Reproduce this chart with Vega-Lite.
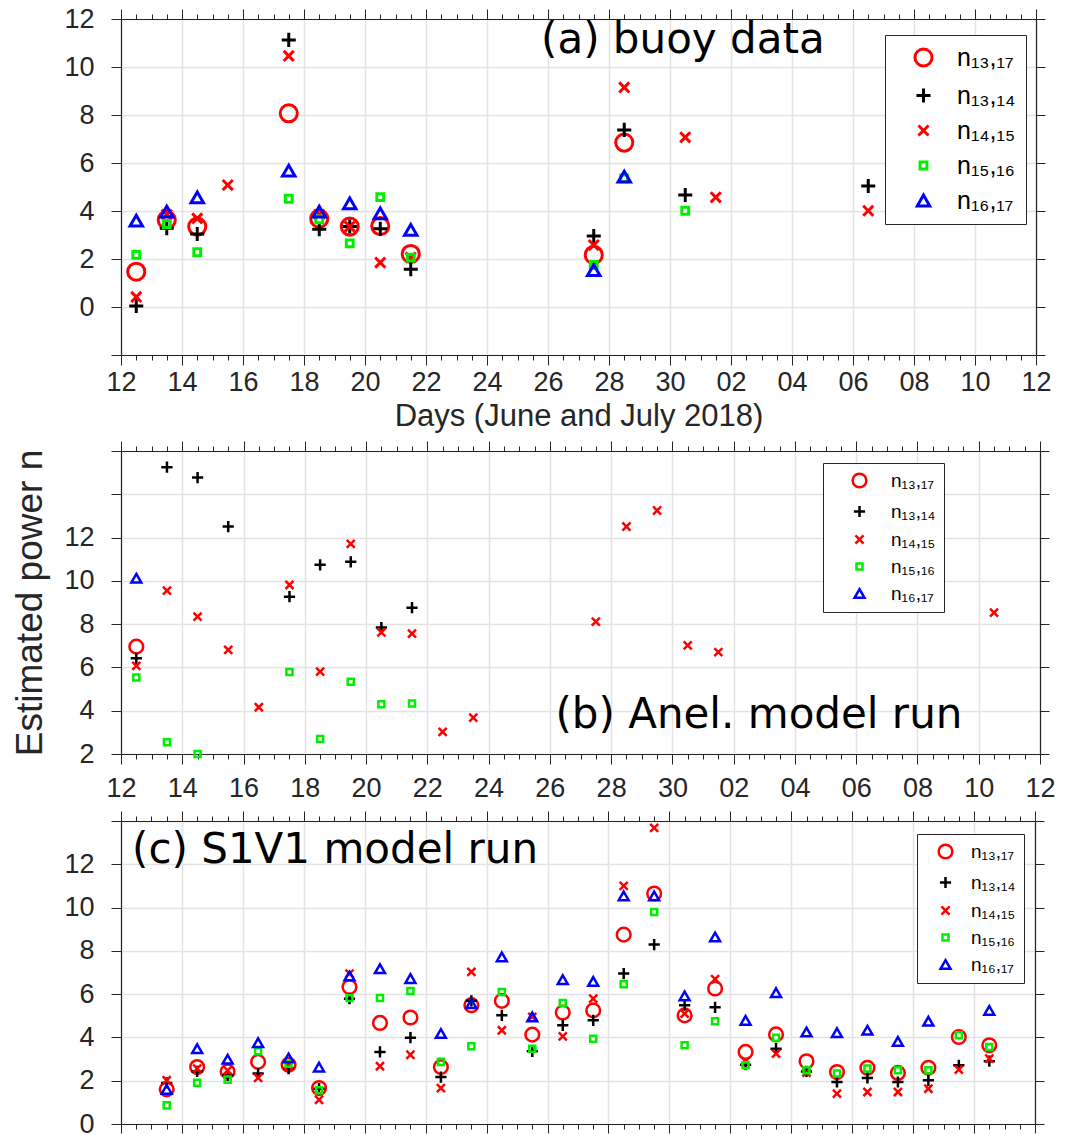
{
  "$schema": "https://vega.github.io/schema/vega-lite/v6.json",
  "padding": {"left": 11, "top": 5, "right": 0, "bottom": 0},
  "background": "white",
  "spacing": 6,
  "config": {
    "view": {"stroke": null},
    "font": "Liberation Sans",
    "axis": {
      "domainColor": "#262626", "tickColor": "#262626", "labelColor": "#262626", "titleColor": "#262626",
      "labelFont": "Liberation Sans", "titleFont": "Liberation Sans", "labelFontSize": 27,
      "gridColor": "#e3e3e3", "gridWidth": 1.5, "titleFontWeight": "normal",
      "labelFlush": false, "labelOverlap": false, "tickWidth": 1, "domainWidth": 1.2
    }
  },
  "datasets": {
    "buoy": [
      {"date": "2018-06-12T12:00:00Z", "series": "n₁₃,₁₇", "n": 1.47},
      {"date": "2018-06-13T12:00:00Z", "series": "n₁₃,₁₇", "n": 3.63},
      {"date": "2018-06-14T12:00:00Z", "series": "n₁₃,₁₇", "n": 3.35},
      {"date": "2018-06-17T12:00:00Z", "series": "n₁₃,₁₇", "n": 8.07},
      {"date": "2018-06-18T12:00:00Z", "series": "n₁₃,₁₇", "n": 3.68},
      {"date": "2018-06-19T12:00:00Z", "series": "n₁₃,₁₇", "n": 3.35},
      {"date": "2018-06-20T12:00:00Z", "series": "n₁₃,₁₇", "n": 3.37},
      {"date": "2018-06-21T12:00:00Z", "series": "n₁₃,₁₇", "n": 2.21},
      {"date": "2018-06-27T12:00:00Z", "series": "n₁₃,₁₇", "n": 2.17},
      {"date": "2018-06-28T12:00:00Z", "series": "n₁₃,₁₇", "n": 6.85},
      {"date": "2018-06-12T12:00:00Z", "series": "n₁₃,₁₄", "n": 0.04},
      {"date": "2018-06-13T12:00:00Z", "series": "n₁₃,₁₄", "n": 3.28},
      {"date": "2018-06-14T12:00:00Z", "series": "n₁₃,₁₄", "n": 3.04},
      {"date": "2018-06-17T12:00:00Z", "series": "n₁₃,₁₄", "n": 11.13},
      {"date": "2018-06-18T12:00:00Z", "series": "n₁₃,₁₄", "n": 3.24},
      {"date": "2018-06-19T12:00:00Z", "series": "n₁₃,₁₄", "n": 3.35},
      {"date": "2018-06-20T12:00:00Z", "series": "n₁₃,₁₄", "n": 3.26},
      {"date": "2018-06-21T12:00:00Z", "series": "n₁₃,₁₄", "n": 1.57},
      {"date": "2018-06-27T12:00:00Z", "series": "n₁₃,₁₄", "n": 2.96},
      {"date": "2018-06-28T12:00:00Z", "series": "n₁₃,₁₄", "n": 7.38},
      {"date": "2018-06-30T12:00:00Z", "series": "n₁₃,₁₄", "n": 4.67},
      {"date": "2018-07-06T12:00:00Z", "series": "n₁₃,₁₄", "n": 5.04},
      {"date": "2018-06-12T12:00:00Z", "series": "n₁₄,₁₅", "n": 0.42},
      {"date": "2018-06-13T12:00:00Z", "series": "n₁₄,₁₅", "n": 3.85},
      {"date": "2018-06-14T12:00:00Z", "series": "n₁₄,₁₅", "n": 3.69},
      {"date": "2018-06-15T12:00:00Z", "series": "n₁₄,₁₅", "n": 5.08},
      {"date": "2018-06-17T12:00:00Z", "series": "n₁₄,₁₅", "n": 10.46},
      {"date": "2018-06-18T12:00:00Z", "series": "n₁₄,₁₅", "n": 3.85},
      {"date": "2018-06-19T12:00:00Z", "series": "n₁₄,₁₅", "n": 3.35},
      {"date": "2018-06-20T12:00:00Z", "series": "n₁₄,₁₅", "n": 1.85},
      {"date": "2018-06-21T12:00:00Z", "series": "n₁₄,₁₅", "n": 2.06},
      {"date": "2018-06-27T12:00:00Z", "series": "n₁₄,₁₅", "n": 2.58},
      {"date": "2018-06-28T12:00:00Z", "series": "n₁₄,₁₅", "n": 9.15},
      {"date": "2018-06-30T12:00:00Z", "series": "n₁₄,₁₅", "n": 7.07},
      {"date": "2018-07-01T12:00:00Z", "series": "n₁₄,₁₅", "n": 4.57},
      {"date": "2018-07-06T12:00:00Z", "series": "n₁₄,₁₅", "n": 4.01},
      {"date": "2018-06-12T12:00:00Z", "series": "n₁₅,₁₆", "n": 2.17},
      {"date": "2018-06-13T12:00:00Z", "series": "n₁₅,₁₆", "n": 3.46},
      {"date": "2018-06-14T12:00:00Z", "series": "n₁₅,₁₆", "n": 2.28},
      {"date": "2018-06-17T12:00:00Z", "series": "n₁₅,₁₆", "n": 4.51},
      {"date": "2018-06-18T12:00:00Z", "series": "n₁₅,₁₆", "n": 3.65},
      {"date": "2018-06-19T12:00:00Z", "series": "n₁₅,₁₆", "n": 2.65},
      {"date": "2018-06-20T12:00:00Z", "series": "n₁₅,₁₆", "n": 4.58},
      {"date": "2018-06-21T12:00:00Z", "series": "n₁₅,₁₆", "n": 2.06},
      {"date": "2018-06-27T12:00:00Z", "series": "n₁₅,₁₆", "n": 1.75},
      {"date": "2018-06-28T12:00:00Z", "series": "n₁₅,₁₆", "n": 5.36},
      {"date": "2018-06-30T12:00:00Z", "series": "n₁₅,₁₆", "n": 4.01},
      {"date": "2018-06-12T12:00:00Z", "series": "n₁₆,₁₇", "n": 3.6},
      {"date": "2018-06-13T12:00:00Z", "series": "n₁₆,₁₇", "n": 3.97},
      {"date": "2018-06-14T12:00:00Z", "series": "n₁₆,₁₇", "n": 4.57},
      {"date": "2018-06-17T12:00:00Z", "series": "n₁₆,₁₇", "n": 5.68},
      {"date": "2018-06-18T12:00:00Z", "series": "n₁₆,₁₇", "n": 3.97},
      {"date": "2018-06-19T12:00:00Z", "series": "n₁₆,₁₇", "n": 4.32},
      {"date": "2018-06-20T12:00:00Z", "series": "n₁₆,₁₇", "n": 3.9},
      {"date": "2018-06-21T12:00:00Z", "series": "n₁₆,₁₇", "n": 3.21},
      {"date": "2018-06-27T12:00:00Z", "series": "n₁₆,₁₇", "n": 1.54},
      {"date": "2018-06-28T12:00:00Z", "series": "n₁₆,₁₇", "n": 5.43}
    ],
    "anel": [
      {"date": "2018-06-12T12:00:00Z", "series": "n₁₃,₁₇", "n": 6.96},
      {"date": "2018-06-12T12:00:00Z", "series": "n₁₃,₁₄", "n": 6.42},
      {"date": "2018-06-13T12:00:00Z", "series": "n₁₃,₁₄", "n": 15.25},
      {"date": "2018-06-14T12:00:00Z", "series": "n₁₃,₁₄", "n": 14.77},
      {"date": "2018-06-15T12:00:00Z", "series": "n₁₃,₁₄", "n": 12.51},
      {"date": "2018-06-17T12:00:00Z", "series": "n₁₃,₁₄", "n": 9.27},
      {"date": "2018-06-18T12:00:00Z", "series": "n₁₃,₁₄", "n": 10.74},
      {"date": "2018-06-19T12:00:00Z", "series": "n₁₃,₁₄", "n": 10.88},
      {"date": "2018-06-20T12:00:00Z", "series": "n₁₃,₁₄", "n": 7.84},
      {"date": "2018-06-21T12:00:00Z", "series": "n₁₃,₁₄", "n": 8.76},
      {"date": "2018-06-12T12:00:00Z", "series": "n₁₄,₁₅", "n": 6.07},
      {"date": "2018-06-13T12:00:00Z", "series": "n₁₄,₁₅", "n": 9.55},
      {"date": "2018-06-14T12:00:00Z", "series": "n₁₄,₁₅", "n": 8.35},
      {"date": "2018-06-15T12:00:00Z", "series": "n₁₄,₁₅", "n": 6.81},
      {"date": "2018-06-16T12:00:00Z", "series": "n₁₄,₁₅", "n": 4.16},
      {"date": "2018-06-17T12:00:00Z", "series": "n₁₄,₁₅", "n": 9.81},
      {"date": "2018-06-18T12:00:00Z", "series": "n₁₄,₁₅", "n": 5.81},
      {"date": "2018-06-19T12:00:00Z", "series": "n₁₄,₁₅", "n": 11.71},
      {"date": "2018-06-20T12:00:00Z", "series": "n₁₄,₁₅", "n": 7.62},
      {"date": "2018-06-21T12:00:00Z", "series": "n₁₄,₁₅", "n": 7.56},
      {"date": "2018-06-22T12:00:00Z", "series": "n₁₄,₁₅", "n": 3.02},
      {"date": "2018-06-23T12:00:00Z", "series": "n₁₄,₁₅", "n": 3.68},
      {"date": "2018-06-27T12:00:00Z", "series": "n₁₄,₁₅", "n": 8.12},
      {"date": "2018-06-28T12:00:00Z", "series": "n₁₄,₁₅", "n": 12.51},
      {"date": "2018-06-29T12:00:00Z", "series": "n₁₄,₁₅", "n": 13.25},
      {"date": "2018-06-30T12:00:00Z", "series": "n₁₄,₁₅", "n": 7.02},
      {"date": "2018-07-01T12:00:00Z", "series": "n₁₄,₁₅", "n": 6.71},
      {"date": "2018-07-10T12:00:00Z", "series": "n₁₄,₁₅", "n": 8.53},
      {"date": "2018-06-12T12:00:00Z", "series": "n₁₅,₁₆", "n": 5.53},
      {"date": "2018-06-13T12:00:00Z", "series": "n₁₅,₁₆", "n": 2.54},
      {"date": "2018-06-14T12:00:00Z", "series": "n₁₅,₁₆", "n": 2.0},
      {"date": "2018-06-17T12:00:00Z", "series": "n₁₅,₁₆", "n": 5.79},
      {"date": "2018-06-18T12:00:00Z", "series": "n₁₅,₁₆", "n": 2.69},
      {"date": "2018-06-19T12:00:00Z", "series": "n₁₅,₁₆", "n": 5.34},
      {"date": "2018-06-20T12:00:00Z", "series": "n₁₅,₁₆", "n": 4.3},
      {"date": "2018-06-21T12:00:00Z", "series": "n₁₅,₁₆", "n": 4.33},
      {"date": "2018-06-12T12:00:00Z", "series": "n₁₆,₁₇", "n": 10.12}
    ],
    "s1v1": [
      {"date": "2018-06-13T12:00:00Z", "series": "n₁₃,₁₇", "n": 1.6},
      {"date": "2018-06-14T12:00:00Z", "series": "n₁₃,₁₇", "n": 2.63},
      {"date": "2018-06-15T12:00:00Z", "series": "n₁₃,₁₇", "n": 2.43},
      {"date": "2018-06-16T12:00:00Z", "series": "n₁₃,₁₇", "n": 2.87},
      {"date": "2018-06-17T12:00:00Z", "series": "n₁₃,₁₇", "n": 2.74},
      {"date": "2018-06-18T12:00:00Z", "series": "n₁₃,₁₇", "n": 1.66},
      {"date": "2018-06-19T12:00:00Z", "series": "n₁₃,₁₇", "n": 6.33},
      {"date": "2018-06-20T12:00:00Z", "series": "n₁₃,₁₇", "n": 4.67},
      {"date": "2018-06-21T12:00:00Z", "series": "n₁₃,₁₇", "n": 4.92},
      {"date": "2018-06-22T12:00:00Z", "series": "n₁₃,₁₇", "n": 2.63},
      {"date": "2018-06-23T12:00:00Z", "series": "n₁₃,₁₇", "n": 5.49},
      {"date": "2018-06-24T12:00:00Z", "series": "n₁₃,₁₇", "n": 5.69},
      {"date": "2018-06-25T12:00:00Z", "series": "n₁₃,₁₇", "n": 4.13},
      {"date": "2018-06-26T12:00:00Z", "series": "n₁₃,₁₇", "n": 5.15},
      {"date": "2018-06-27T12:00:00Z", "series": "n₁₃,₁₇", "n": 5.25},
      {"date": "2018-06-28T12:00:00Z", "series": "n₁₃,₁₇", "n": 8.75},
      {"date": "2018-06-29T12:00:00Z", "series": "n₁₃,₁₇", "n": 10.65},
      {"date": "2018-06-30T12:00:00Z", "series": "n₁₃,₁₇", "n": 5.02},
      {"date": "2018-07-01T12:00:00Z", "series": "n₁₃,₁₇", "n": 6.26},
      {"date": "2018-07-02T12:00:00Z", "series": "n₁₃,₁₇", "n": 3.33},
      {"date": "2018-07-03T12:00:00Z", "series": "n₁₃,₁₇", "n": 4.14},
      {"date": "2018-07-04T12:00:00Z", "series": "n₁₃,₁₇", "n": 2.9},
      {"date": "2018-07-05T12:00:00Z", "series": "n₁₃,₁₇", "n": 2.4},
      {"date": "2018-07-06T12:00:00Z", "series": "n₁₃,₁₇", "n": 2.6},
      {"date": "2018-07-07T12:00:00Z", "series": "n₁₃,₁₇", "n": 2.36},
      {"date": "2018-07-08T12:00:00Z", "series": "n₁₃,₁₇", "n": 2.6},
      {"date": "2018-07-09T12:00:00Z", "series": "n₁₃,₁₇", "n": 4.02},
      {"date": "2018-07-10T12:00:00Z", "series": "n₁₃,₁₇", "n": 3.64},
      {"date": "2018-06-13T12:00:00Z", "series": "n₁₃,₁₄", "n": 1.9},
      {"date": "2018-06-14T12:00:00Z", "series": "n₁₃,₁₄", "n": 2.43},
      {"date": "2018-06-15T12:00:00Z", "series": "n₁₃,₁₄", "n": 2.25},
      {"date": "2018-06-16T12:00:00Z", "series": "n₁₃,₁₄", "n": 2.33},
      {"date": "2018-06-17T12:00:00Z", "series": "n₁₃,₁₄", "n": 2.56},
      {"date": "2018-06-18T12:00:00Z", "series": "n₁₃,₁₄", "n": 1.63},
      {"date": "2018-06-19T12:00:00Z", "series": "n₁₃,₁₄", "n": 5.79},
      {"date": "2018-06-20T12:00:00Z", "series": "n₁₃,₁₄", "n": 3.33},
      {"date": "2018-06-21T12:00:00Z", "series": "n₁₃,₁₄", "n": 3.99},
      {"date": "2018-06-22T12:00:00Z", "series": "n₁₃,₁₄", "n": 2.17},
      {"date": "2018-06-23T12:00:00Z", "series": "n₁₃,₁₄", "n": 5.69},
      {"date": "2018-06-24T12:00:00Z", "series": "n₁₃,₁₄", "n": 5.02},
      {"date": "2018-06-25T12:00:00Z", "series": "n₁₃,₁₄", "n": 3.36},
      {"date": "2018-06-26T12:00:00Z", "series": "n₁₃,₁₄", "n": 4.56},
      {"date": "2018-06-27T12:00:00Z", "series": "n₁₃,₁₄", "n": 4.79},
      {"date": "2018-06-28T12:00:00Z", "series": "n₁₃,₁₄", "n": 6.95},
      {"date": "2018-06-29T12:00:00Z", "series": "n₁₃,₁₄", "n": 8.29},
      {"date": "2018-06-30T12:00:00Z", "series": "n₁₃,₁₄", "n": 5.49},
      {"date": "2018-07-01T12:00:00Z", "series": "n₁₃,₁₄", "n": 5.39},
      {"date": "2018-07-02T12:00:00Z", "series": "n₁₃,₁₄", "n": 2.74},
      {"date": "2018-07-03T12:00:00Z", "series": "n₁₃,₁₄", "n": 3.48},
      {"date": "2018-07-04T12:00:00Z", "series": "n₁₃,₁₄", "n": 2.43},
      {"date": "2018-07-05T12:00:00Z", "series": "n₁₃,₁₄", "n": 1.94},
      {"date": "2018-07-06T12:00:00Z", "series": "n₁₃,₁₄", "n": 2.13},
      {"date": "2018-07-07T12:00:00Z", "series": "n₁₃,₁₄", "n": 1.94},
      {"date": "2018-07-08T12:00:00Z", "series": "n₁₃,₁₄", "n": 2.02},
      {"date": "2018-07-09T12:00:00Z", "series": "n₁₃,₁₄", "n": 2.71},
      {"date": "2018-07-10T12:00:00Z", "series": "n₁₃,₁₄", "n": 2.9},
      {"date": "2018-06-13T12:00:00Z", "series": "n₁₄,₁₅", "n": 2.02},
      {"date": "2018-06-14T12:00:00Z", "series": "n₁₄,₁₅", "n": 2.56},
      {"date": "2018-06-15T12:00:00Z", "series": "n₁₄,₁₅", "n": 2.48},
      {"date": "2018-06-16T12:00:00Z", "series": "n₁₄,₁₅", "n": 2.13},
      {"date": "2018-06-17T12:00:00Z", "series": "n₁₄,₁₅", "n": 2.71},
      {"date": "2018-06-18T12:00:00Z", "series": "n₁₄,₁₅", "n": 1.12},
      {"date": "2018-06-19T12:00:00Z", "series": "n₁₄,₁₅", "n": 6.95},
      {"date": "2018-06-20T12:00:00Z", "series": "n₁₄,₁₅", "n": 2.67},
      {"date": "2018-06-21T12:00:00Z", "series": "n₁₄,₁₅", "n": 3.2},
      {"date": "2018-06-22T12:00:00Z", "series": "n₁₄,₁₅", "n": 1.66},
      {"date": "2018-06-23T12:00:00Z", "series": "n₁₄,₁₅", "n": 7.03},
      {"date": "2018-06-24T12:00:00Z", "series": "n₁₄,₁₅", "n": 4.33},
      {"date": "2018-06-25T12:00:00Z", "series": "n₁₄,₁₅", "n": 4.95},
      {"date": "2018-06-26T12:00:00Z", "series": "n₁₄,₁₅", "n": 4.05},
      {"date": "2018-06-27T12:00:00Z", "series": "n₁₄,₁₅", "n": 5.79},
      {"date": "2018-06-28T12:00:00Z", "series": "n₁₄,₁₅", "n": 11.0},
      {"date": "2018-06-29T12:00:00Z", "series": "n₁₄,₁₅", "n": 13.68},
      {"date": "2018-06-30T12:00:00Z", "series": "n₁₄,₁₅", "n": 5.1},
      {"date": "2018-07-01T12:00:00Z", "series": "n₁₄,₁₅", "n": 6.69},
      {"date": "2018-07-02T12:00:00Z", "series": "n₁₄,₁₅", "n": 2.9},
      {"date": "2018-07-03T12:00:00Z", "series": "n₁₄,₁₅", "n": 3.25},
      {"date": "2018-07-04T12:00:00Z", "series": "n₁₄,₁₅", "n": 2.37},
      {"date": "2018-07-05T12:00:00Z", "series": "n₁₄,₁₅", "n": 1.4},
      {"date": "2018-07-06T12:00:00Z", "series": "n₁₄,₁₅", "n": 1.48},
      {"date": "2018-07-07T12:00:00Z", "series": "n₁₄,₁₅", "n": 1.48},
      {"date": "2018-07-08T12:00:00Z", "series": "n₁₄,₁₅", "n": 1.63},
      {"date": "2018-07-09T12:00:00Z", "series": "n₁₄,₁₅", "n": 2.51},
      {"date": "2018-07-10T12:00:00Z", "series": "n₁₄,₁₅", "n": 3.02},
      {"date": "2018-06-13T12:00:00Z", "series": "n₁₅,₁₆", "n": 0.86},
      {"date": "2018-06-14T12:00:00Z", "series": "n₁₅,₁₆", "n": 1.91},
      {"date": "2018-06-15T12:00:00Z", "series": "n₁₅,₁₆", "n": 2.05},
      {"date": "2018-06-16T12:00:00Z", "series": "n₁₅,₁₆", "n": 3.36},
      {"date": "2018-06-17T12:00:00Z", "series": "n₁₅,₁₆", "n": 2.79},
      {"date": "2018-06-18T12:00:00Z", "series": "n₁₅,₁₆", "n": 1.56},
      {"date": "2018-06-19T12:00:00Z", "series": "n₁₅,₁₆", "n": 5.82},
      {"date": "2018-06-20T12:00:00Z", "series": "n₁₅,₁₆", "n": 5.82},
      {"date": "2018-06-21T12:00:00Z", "series": "n₁₅,₁₆", "n": 6.15},
      {"date": "2018-06-22T12:00:00Z", "series": "n₁₅,₁₆", "n": 2.87},
      {"date": "2018-06-23T12:00:00Z", "series": "n₁₅,₁₆", "n": 3.59},
      {"date": "2018-06-24T12:00:00Z", "series": "n₁₅,₁₆", "n": 6.1},
      {"date": "2018-06-25T12:00:00Z", "series": "n₁₅,₁₆", "n": 3.48},
      {"date": "2018-06-26T12:00:00Z", "series": "n₁₅,₁₆", "n": 5.59},
      {"date": "2018-06-27T12:00:00Z", "series": "n₁₅,₁₆", "n": 3.94},
      {"date": "2018-06-28T12:00:00Z", "series": "n₁₅,₁₆", "n": 6.46},
      {"date": "2018-06-29T12:00:00Z", "series": "n₁₅,₁₆", "n": 9.8},
      {"date": "2018-06-30T12:00:00Z", "series": "n₁₅,₁₆", "n": 3.64},
      {"date": "2018-07-01T12:00:00Z", "series": "n₁₅,₁₆", "n": 4.75},
      {"date": "2018-07-02T12:00:00Z", "series": "n₁₅,₁₆", "n": 2.71},
      {"date": "2018-07-03T12:00:00Z", "series": "n₁₅,₁₆", "n": 3.98},
      {"date": "2018-07-04T12:00:00Z", "series": "n₁₅,₁₆", "n": 2.48},
      {"date": "2018-07-05T12:00:00Z", "series": "n₁₅,₁₆", "n": 2.33},
      {"date": "2018-07-06T12:00:00Z", "series": "n₁₅,₁₆", "n": 2.56},
      {"date": "2018-07-07T12:00:00Z", "series": "n₁₅,₁₆", "n": 2.48},
      {"date": "2018-07-08T12:00:00Z", "series": "n₁₅,₁₆", "n": 2.48},
      {"date": "2018-07-09T12:00:00Z", "series": "n₁₅,₁₆", "n": 4.1},
      {"date": "2018-07-10T12:00:00Z", "series": "n₁₅,₁₆", "n": 3.56},
      {"date": "2018-06-13T12:00:00Z", "series": "n₁₆,₁₇", "n": 1.6},
      {"date": "2018-06-14T12:00:00Z", "series": "n₁₆,₁₇", "n": 3.48},
      {"date": "2018-06-15T12:00:00Z", "series": "n₁₆,₁₇", "n": 2.99},
      {"date": "2018-06-16T12:00:00Z", "series": "n₁₆,₁₇", "n": 3.76},
      {"date": "2018-06-17T12:00:00Z", "series": "n₁₆,₁₇", "n": 3.05},
      {"date": "2018-06-18T12:00:00Z", "series": "n₁₆,₁₇", "n": 2.63},
      {"date": "2018-06-19T12:00:00Z", "series": "n₁₆,₁₇", "n": 6.84},
      {"date": "2018-06-20T12:00:00Z", "series": "n₁₆,₁₇", "n": 7.18},
      {"date": "2018-06-21T12:00:00Z", "series": "n₁₆,₁₇", "n": 6.72},
      {"date": "2018-06-22T12:00:00Z", "series": "n₁₆,₁₇", "n": 4.18},
      {"date": "2018-06-23T12:00:00Z", "series": "n₁₆,₁₇", "n": 5.56},
      {"date": "2018-06-24T12:00:00Z", "series": "n₁₆,₁₇", "n": 7.72},
      {"date": "2018-06-25T12:00:00Z", "series": "n₁₆,₁₇", "n": 4.95},
      {"date": "2018-06-26T12:00:00Z", "series": "n₁₆,₁₇", "n": 6.67},
      {"date": "2018-06-27T12:00:00Z", "series": "n₁₆,₁₇", "n": 6.59},
      {"date": "2018-06-28T12:00:00Z", "series": "n₁₆,₁₇", "n": 10.54},
      {"date": "2018-06-29T12:00:00Z", "series": "n₁₆,₁₇", "n": 10.54},
      {"date": "2018-06-30T12:00:00Z", "series": "n₁₆,₁₇", "n": 5.92},
      {"date": "2018-07-01T12:00:00Z", "series": "n₁₆,₁₇", "n": 8.64},
      {"date": "2018-07-02T12:00:00Z", "series": "n₁₆,₁₇", "n": 4.79},
      {"date": "2018-07-03T12:00:00Z", "series": "n₁₆,₁₇", "n": 6.07},
      {"date": "2018-07-04T12:00:00Z", "series": "n₁₆,₁₇", "n": 4.25},
      {"date": "2018-07-05T12:00:00Z", "series": "n₁₆,₁₇", "n": 4.22},
      {"date": "2018-07-06T12:00:00Z", "series": "n₁₆,₁₇", "n": 4.33},
      {"date": "2018-07-07T12:00:00Z", "series": "n₁₆,₁₇", "n": 3.82},
      {"date": "2018-07-08T12:00:00Z", "series": "n₁₆,₁₇", "n": 4.75},
      {"date": "2018-07-10T12:00:00Z", "series": "n₁₆,₁₇", "n": 5.25}
    ],
    "one": [{"label": "panel"}]
  },
  "resolve": {"scale": {"color": "independent", "shape": "independent"}},
  "vconcat": [
    {
      "width": 915, "height": 336,
      "data": {"name": "buoy"},
      "layer": [
        {
          "mark": {"type": "point", "filled": false, "strokeWidth": 3, "size": 324, "opacity": 1},
          "encoding": {
            "x": {"field": "date", "type": "temporal",
              "scale": {"type": "utc", "nice": false, "domain": [1528761600000, 1531353600000]},
              "axis": {"orient": "bottom", "title": "Days (June and July 2018)", "titleFontSize": 31, "titlePadding": 6,
                "values": [1528761600000, 1528934400000, 1529107200000, 1529280000000, 1529452800000, 1529625600000, 1529798400000, 1529971200000, 1530144000000, 1530316800000, 1530489600000, 1530662400000, 1530835200000, 1531008000000, 1531180800000, 1531353600000],
                "format": "%d", "labelPadding": 4, "tickSize": 10, "grid": true}},
            "y": {"field": "n", "type": "quantitative",
              "scale": {"domain": [-2, 12], "nice": false, "zero": false},
              "axis": {"orient": "left", "values": [-2, 0, 2, 4, 6, 8, 10, 12], "labelExpr": "datum.value < 0 ? '' : datum.label", "tickSize": 10, "labelPadding": 17, "title": null, "grid": true}},
            "color": {"field": "series", "type": "nominal",
              "scale": {"domain": ["n₁₃,₁₇", "n₁₃,₁₄", "n₁₄,₁₅", "n₁₅,₁₆", "n₁₆,₁₇"], "range": ["#ff0000", "#000000", "#ff0000", "#00ee00", "#0000ff"]},
              "legend": {"orient": "none", "legendX": 764, "legendY": 16, "title": null, "strokeColor": "#262626", "fillColor": "#ffffff", "padding": 10, "rowPadding": 9, "labelFontSize": 25, "labelFont": "Liberation Sans", "labelColor": "#000000", "symbolOffset": 16, "labelOffset": 21, "symbolStrokeWidth": 3, "symbolSize": 324}},
            "shape": {"field": "series", "type": "nominal",
              "scale": {"domain": ["n₁₃,₁₇", "n₁₃,₁₄", "n₁₄,₁₅", "n₁₅,₁₆", "n₁₆,₁₇"], "range": ["M0.95,0C0.95,0.5247,0.5247,0.95,0,0.95C-0.5247,0.95,-0.95,0.5247,-0.95,0C-0.95,-0.5247,-0.5247,-0.95,0,-0.95C0.5247,-0.95,0.95,-0.5247,0.95,0Z", "M-0.78,0L0.78,0M0,-0.78L0,0.78", "M-0.56,-0.56L0.56,0.56M-0.56,0.56L0.56,-0.56", "M-0.38,-0.38L0.38,-0.38L0.38,0.38L-0.38,0.38Z", "M0,-0.6L0.69,0.6L-0.69,0.6Z"]},
              "legend": {"orient": "none", "legendX": 764, "legendY": 16, "title": null, "strokeColor": "#262626", "fillColor": "#ffffff", "padding": 10, "rowPadding": 9, "labelFontSize": 25, "labelFont": "Liberation Sans", "labelColor": "#000000", "symbolOffset": 16, "labelOffset": 21, "symbolStrokeWidth": 3, "symbolSize": 324}}
          }
        },
        {
          "data": {"name": "one"},
          "mark": {"type": "text", "align": "left", "baseline": "alphabetic", "font": "DejaVu Sans", "fontSize": 42, "color": "#000000"},
          "encoding": {
            "x": {"datum": {"year": 2018, "month": 6, "date": 25, "hours": 18, "minutes": 30, "utc": true}, "type": "temporal", "axis": null},
            "y": {"datum": 10.58, "type": "quantitative", "axis": null},
            "text": {"value": "(a) buoy data"}
          }
        },
        {
          "mark": {"type": "point", "opacity": 0},
          "encoding": {
            "x": {"field": "date", "type": "temporal",
              "axis": {"orient": "top", "title": null, "labels": false, "grid": false, "tickSize": 10,
                "values": [1528761600000, 1528934400000, 1529107200000, 1529280000000, 1529452800000, 1529625600000, 1529798400000, 1529971200000, 1530144000000, 1530316800000, 1530489600000, 1530662400000, 1530835200000, 1531008000000, 1531180800000, 1531353600000]}},
            "y": {"field": "n", "type": "quantitative",
              "axis": {"orient": "right", "title": null, "labels": false, "grid": false, "values": [-2, 0, 2, 4, 6, 8, 10, 12], "tickSize": 9}}
          }
        },
        {
          "mark": {"type": "point", "opacity": 0},
          "encoding": {
            "x": {"field": "date", "type": "temporal",
              "axis": {"orient": "bottom", "title": null, "labels": false, "grid": false, "domain": false, "tickSize": 5,
                "values": [1528761600000, 1528804800000, 1528848000000, 1528891200000, 1528934400000, 1528977600000, 1529020800000, 1529064000000, 1529107200000, 1529150400000, 1529193600000, 1529236800000, 1529280000000, 1529323200000, 1529366400000, 1529409600000, 1529452800000, 1529496000000, 1529539200000, 1529582400000, 1529625600000, 1529668800000, 1529712000000, 1529755200000, 1529798400000, 1529841600000, 1529884800000, 1529928000000, 1529971200000, 1530014400000, 1530057600000, 1530100800000, 1530144000000, 1530187200000, 1530230400000, 1530273600000, 1530316800000, 1530360000000, 1530403200000, 1530446400000, 1530489600000, 1530532800000, 1530576000000, 1530619200000, 1530662400000, 1530705600000, 1530748800000, 1530792000000, 1530835200000, 1530878400000, 1530921600000, 1530964800000, 1531008000000, 1531051200000, 1531094400000, 1531137600000, 1531180800000, 1531224000000, 1531267200000, 1531310400000, 1531353600000]}},
            "y": {"field": "n", "type": "quantitative", "axis": null}
          }
        },
        {
          "mark": {"type": "point", "opacity": 0},
          "encoding": {
            "x": {"field": "date", "type": "temporal",
              "axis": {"orient": "top", "title": null, "labels": false, "grid": false, "domain": false, "tickSize": 5,
                "values": [1528761600000, 1528804800000, 1528848000000, 1528891200000, 1528934400000, 1528977600000, 1529020800000, 1529064000000, 1529107200000, 1529150400000, 1529193600000, 1529236800000, 1529280000000, 1529323200000, 1529366400000, 1529409600000, 1529452800000, 1529496000000, 1529539200000, 1529582400000, 1529625600000, 1529668800000, 1529712000000, 1529755200000, 1529798400000, 1529841600000, 1529884800000, 1529928000000, 1529971200000, 1530014400000, 1530057600000, 1530100800000, 1530144000000, 1530187200000, 1530230400000, 1530273600000, 1530316800000, 1530360000000, 1530403200000, 1530446400000, 1530489600000, 1530532800000, 1530576000000, 1530619200000, 1530662400000, 1530705600000, 1530748800000, 1530792000000, 1530835200000, 1530878400000, 1530921600000, 1530964800000, 1531008000000, 1531051200000, 1531094400000, 1531137600000, 1531180800000, 1531224000000, 1531267200000, 1531310400000, 1531353600000]}},
            "y": {"field": "n", "type": "quantitative", "axis": null}
          }
        }
      ],
      "resolve": {"axis": {"x": "independent", "y": "independent"}}
    },
    {
      "width": 919, "height": 303,
      "data": {"name": "anel"},
      "layer": [
        {
          "mark": {"type": "point", "filled": false, "strokeWidth": 2.5, "size": 207, "opacity": 1},
          "encoding": {
            "x": {"field": "date", "type": "temporal",
              "scale": {"type": "utc", "nice": false, "domain": [1528761600000, 1531353600000]},
              "axis": {"orient": "bottom", "title": null,
                "values": [1528761600000, 1528934400000, 1529107200000, 1529280000000, 1529452800000, 1529625600000, 1529798400000, 1529971200000, 1530144000000, 1530316800000, 1530489600000, 1530662400000, 1530835200000, 1531008000000, 1531180800000, 1531353600000],
                "format": "%d", "labelPadding": 11, "tickSize": 10, "grid": true}},
            "y": {"field": "n", "type": "quantitative",
              "scale": {"domain": [2, 16], "nice": false, "zero": false},
              "axis": {"orient": "left", "values": [2, 4, 6, 8, 10, 12, 14, 16], "labelExpr": "datum.value > 12 ? '' : datum.label", "tickSize": 10, "labelPadding": 17, "grid": true,
                "title": "Estimated power n", "titleFontSize": 37, "titlePadding": 14}},
            "color": {"field": "series", "type": "nominal",
              "scale": {"domain": ["n₁₃,₁₇", "n₁₃,₁₄", "n₁₄,₁₅", "n₁₅,₁₆", "n₁₆,₁₇"], "range": ["#ff0000", "#000000", "#ff0000", "#00ee00", "#0000ff"]},
              "legend": {"orient": "none", "legendX": 702, "legendY": 12, "title": null, "strokeColor": "#262626", "fillColor": "#ffffff", "padding": 8, "rowPadding": 7, "labelFontSize": 19, "labelFont": "Liberation Sans", "labelColor": "#000000", "symbolOffset": 19, "labelOffset": 22, "symbolStrokeWidth": 2.5, "symbolSize": 207}},
            "shape": {"field": "series", "type": "nominal",
              "scale": {"domain": ["n₁₃,₁₇", "n₁₃,₁₄", "n₁₄,₁₅", "n₁₅,₁₆", "n₁₆,₁₇"], "range": ["M0.95,0C0.95,0.5247,0.5247,0.95,0,0.95C-0.5247,0.95,-0.95,0.5247,-0.95,0C-0.95,-0.5247,-0.5247,-0.95,0,-0.95C0.5247,-0.95,0.95,-0.5247,0.95,0Z", "M-0.78,0L0.78,0M0,-0.78L0,0.78", "M-0.56,-0.56L0.56,0.56M-0.56,0.56L0.56,-0.56", "M-0.42,-0.42L0.42,-0.42L0.42,0.42L-0.42,0.42Z", "M0,-0.6L0.69,0.6L-0.69,0.6Z"]},
              "legend": {"orient": "none", "legendX": 702, "legendY": 12, "title": null, "strokeColor": "#262626", "fillColor": "#ffffff", "padding": 8, "rowPadding": 7, "labelFontSize": 19, "labelFont": "Liberation Sans", "labelColor": "#000000", "symbolOffset": 19, "labelOffset": 22, "symbolStrokeWidth": 2.5, "symbolSize": 207}}
          }
        },
        {
          "data": {"name": "one"},
          "mark": {"type": "text", "align": "left", "baseline": "alphabetic", "font": "DejaVu Sans", "fontSize": 42, "color": "#000000"},
          "encoding": {
            "x": {"datum": {"year": 2018, "month": 6, "date": 26, "hours": 4, "minutes": 20, "utc": true}, "type": "temporal", "axis": null},
            "y": {"datum": 3.2, "type": "quantitative", "axis": null},
            "text": {"value": "(b) Anel. model run"}
          }
        },
        {
          "mark": {"type": "point", "opacity": 0},
          "encoding": {
            "x": {"field": "date", "type": "temporal",
              "axis": {"orient": "top", "title": null, "labels": false, "grid": false, "tickSize": 10,
                "values": [1528761600000, 1528934400000, 1529107200000, 1529280000000, 1529452800000, 1529625600000, 1529798400000, 1529971200000, 1530144000000, 1530316800000, 1530489600000, 1530662400000, 1530835200000, 1531008000000, 1531180800000, 1531353600000]}},
            "y": {"field": "n", "type": "quantitative",
              "axis": {"orient": "right", "title": null, "labels": false, "grid": false, "values": [2, 4, 6, 8, 10, 12, 14, 16], "tickSize": 9}}
          }
        },
        {
          "mark": {"type": "point", "opacity": 0},
          "encoding": {
            "x": {"field": "date", "type": "temporal",
              "axis": {"orient": "bottom", "title": null, "labels": false, "grid": false, "domain": false, "tickSize": 5,
                "values": [1528761600000, 1528804800000, 1528848000000, 1528891200000, 1528934400000, 1528977600000, 1529020800000, 1529064000000, 1529107200000, 1529150400000, 1529193600000, 1529236800000, 1529280000000, 1529323200000, 1529366400000, 1529409600000, 1529452800000, 1529496000000, 1529539200000, 1529582400000, 1529625600000, 1529668800000, 1529712000000, 1529755200000, 1529798400000, 1529841600000, 1529884800000, 1529928000000, 1529971200000, 1530014400000, 1530057600000, 1530100800000, 1530144000000, 1530187200000, 1530230400000, 1530273600000, 1530316800000, 1530360000000, 1530403200000, 1530446400000, 1530489600000, 1530532800000, 1530576000000, 1530619200000, 1530662400000, 1530705600000, 1530748800000, 1530792000000, 1530835200000, 1530878400000, 1530921600000, 1530964800000, 1531008000000, 1531051200000, 1531094400000, 1531137600000, 1531180800000, 1531224000000, 1531267200000, 1531310400000, 1531353600000]}},
            "y": {"field": "n", "type": "quantitative", "axis": null}
          }
        },
        {
          "mark": {"type": "point", "opacity": 0},
          "encoding": {
            "x": {"field": "date", "type": "temporal",
              "axis": {"orient": "top", "title": null, "labels": false, "grid": false, "domain": false, "tickSize": 5,
                "values": [1528761600000, 1528804800000, 1528848000000, 1528891200000, 1528934400000, 1528977600000, 1529020800000, 1529064000000, 1529107200000, 1529150400000, 1529193600000, 1529236800000, 1529280000000, 1529323200000, 1529366400000, 1529409600000, 1529452800000, 1529496000000, 1529539200000, 1529582400000, 1529625600000, 1529668800000, 1529712000000, 1529755200000, 1529798400000, 1529841600000, 1529884800000, 1529928000000, 1529971200000, 1530014400000, 1530057600000, 1530100800000, 1530144000000, 1530187200000, 1530230400000, 1530273600000, 1530316800000, 1530360000000, 1530403200000, 1530446400000, 1530489600000, 1530532800000, 1530576000000, 1530619200000, 1530662400000, 1530705600000, 1530748800000, 1530792000000, 1530835200000, 1530878400000, 1530921600000, 1530964800000, 1531008000000, 1531051200000, 1531094400000, 1531137600000, 1531180800000, 1531224000000, 1531267200000, 1531310400000, 1531353600000]}},
            "y": {"field": "n", "type": "quantitative", "axis": null}
          }
        }
      ],
      "resolve": {"axis": {"x": "independent", "y": "independent"}}
    },
    {
      "width": 914, "height": 303,
      "data": {"name": "s1v1"},
      "layer": [
        {
          "mark": {"type": "point", "filled": false, "strokeWidth": 2.5, "size": 207, "opacity": 1},
          "encoding": {
            "x": {"field": "date", "type": "temporal",
              "scale": {"type": "utc", "nice": false, "domain": [1528761600000, 1531353600000]},
              "axis": {"orient": "bottom", "title": null, "labels": false,
                "values": [1528761600000, 1528934400000, 1529107200000, 1529280000000, 1529452800000, 1529625600000, 1529798400000, 1529971200000, 1530144000000, 1530316800000, 1530489600000, 1530662400000, 1530835200000, 1531008000000, 1531180800000, 1531353600000],
                "tickSize": 9, "grid": true}},
            "y": {"field": "n", "type": "quantitative",
              "scale": {"domain": [0, 14], "nice": false, "zero": false},
              "axis": {"orient": "left", "values": [0, 2, 4, 6, 8, 10, 12, 14], "labelExpr": "datum.value > 12 ? '' : datum.label", "tickSize": 10, "labelPadding": 17, "title": null, "grid": true}},
            "color": {"field": "series", "type": "nominal",
              "scale": {"domain": ["n₁₃,₁₇", "n₁₃,₁₄", "n₁₄,₁₅", "n₁₅,₁₆", "n₁₆,₁₇"], "range": ["#ff0000", "#000000", "#ff0000", "#00ee00", "#0000ff"]},
              "legend": {"orient": "none", "legendX": 796, "legendY": 13, "title": null, "strokeColor": "#262626", "fillColor": "#ffffff", "padding": 8, "rowPadding": 7, "labelFontSize": 19, "labelFont": "Liberation Sans", "labelColor": "#000000", "symbolOffset": 11, "labelOffset": 16, "symbolStrokeWidth": 2.5, "symbolSize": 207}},
            "shape": {"field": "series", "type": "nominal",
              "scale": {"domain": ["n₁₃,₁₇", "n₁₃,₁₄", "n₁₄,₁₅", "n₁₅,₁₆", "n₁₆,₁₇"], "range": ["M0.95,0C0.95,0.5247,0.5247,0.95,0,0.95C-0.5247,0.95,-0.95,0.5247,-0.95,0C-0.95,-0.5247,-0.5247,-0.95,0,-0.95C0.5247,-0.95,0.95,-0.5247,0.95,0Z", "M-0.78,0L0.78,0M0,-0.78L0,0.78", "M-0.56,-0.56L0.56,0.56M-0.56,0.56L0.56,-0.56", "M-0.42,-0.42L0.42,-0.42L0.42,0.42L-0.42,0.42Z", "M0,-0.6L0.69,0.6L-0.69,0.6Z"]},
              "legend": {"orient": "none", "legendX": 796, "legendY": 13, "title": null, "strokeColor": "#262626", "fillColor": "#ffffff", "padding": 8, "rowPadding": 7, "labelFontSize": 19, "labelFont": "Liberation Sans", "labelColor": "#000000", "symbolOffset": 11, "labelOffset": 16, "symbolStrokeWidth": 2.5, "symbolSize": 207}}
          }
        },
        {
          "data": {"name": "one"},
          "mark": {"type": "text", "align": "left", "baseline": "alphabetic", "font": "DejaVu Sans", "fontSize": 42, "color": "#000000"},
          "encoding": {
            "x": {"datum": {"year": 2018, "month": 6, "date": 12, "hours": 8, "minutes": 40, "utc": true}, "type": "temporal", "axis": null},
            "y": {"datum": 12.06, "type": "quantitative", "axis": null},
            "text": {"value": "(c) S1V1 model run"}
          }
        },
        {
          "mark": {"type": "point", "opacity": 0},
          "encoding": {
            "x": {"field": "date", "type": "temporal",
              "axis": {"orient": "top", "title": null, "labels": false, "grid": false, "tickSize": 10,
                "values": [1528761600000, 1528934400000, 1529107200000, 1529280000000, 1529452800000, 1529625600000, 1529798400000, 1529971200000, 1530144000000, 1530316800000, 1530489600000, 1530662400000, 1530835200000, 1531008000000, 1531180800000, 1531353600000]}},
            "y": {"field": "n", "type": "quantitative",
              "axis": {"orient": "right", "title": null, "labels": false, "grid": false, "values": [0, 2, 4, 6, 8, 10, 12, 14], "tickSize": 9}}
          }
        },
        {
          "mark": {"type": "point", "opacity": 0},
          "encoding": {
            "x": {"field": "date", "type": "temporal",
              "axis": {"orient": "bottom", "title": null, "labels": false, "grid": false, "domain": false, "tickSize": 5,
                "values": [1528761600000, 1528804800000, 1528848000000, 1528891200000, 1528934400000, 1528977600000, 1529020800000, 1529064000000, 1529107200000, 1529150400000, 1529193600000, 1529236800000, 1529280000000, 1529323200000, 1529366400000, 1529409600000, 1529452800000, 1529496000000, 1529539200000, 1529582400000, 1529625600000, 1529668800000, 1529712000000, 1529755200000, 1529798400000, 1529841600000, 1529884800000, 1529928000000, 1529971200000, 1530014400000, 1530057600000, 1530100800000, 1530144000000, 1530187200000, 1530230400000, 1530273600000, 1530316800000, 1530360000000, 1530403200000, 1530446400000, 1530489600000, 1530532800000, 1530576000000, 1530619200000, 1530662400000, 1530705600000, 1530748800000, 1530792000000, 1530835200000, 1530878400000, 1530921600000, 1530964800000, 1531008000000, 1531051200000, 1531094400000, 1531137600000, 1531180800000, 1531224000000, 1531267200000, 1531310400000, 1531353600000]}},
            "y": {"field": "n", "type": "quantitative", "axis": null}
          }
        },
        {
          "mark": {"type": "point", "opacity": 0},
          "encoding": {
            "x": {"field": "date", "type": "temporal",
              "axis": {"orient": "top", "title": null, "labels": false, "grid": false, "domain": false, "tickSize": 5,
                "values": [1528761600000, 1528804800000, 1528848000000, 1528891200000, 1528934400000, 1528977600000, 1529020800000, 1529064000000, 1529107200000, 1529150400000, 1529193600000, 1529236800000, 1529280000000, 1529323200000, 1529366400000, 1529409600000, 1529452800000, 1529496000000, 1529539200000, 1529582400000, 1529625600000, 1529668800000, 1529712000000, 1529755200000, 1529798400000, 1529841600000, 1529884800000, 1529928000000, 1529971200000, 1530014400000, 1530057600000, 1530100800000, 1530144000000, 1530187200000, 1530230400000, 1530273600000, 1530316800000, 1530360000000, 1530403200000, 1530446400000, 1530489600000, 1530532800000, 1530576000000, 1530619200000, 1530662400000, 1530705600000, 1530748800000, 1530792000000, 1530835200000, 1530878400000, 1530921600000, 1530964800000, 1531008000000, 1531051200000, 1531094400000, 1531137600000, 1531180800000, 1531224000000, 1531267200000, 1531310400000, 1531353600000]}},
            "y": {"field": "n", "type": "quantitative", "axis": null}
          }
        }
      ],
      "resolve": {"axis": {"x": "independent", "y": "independent"}}
    }
  ]
}
